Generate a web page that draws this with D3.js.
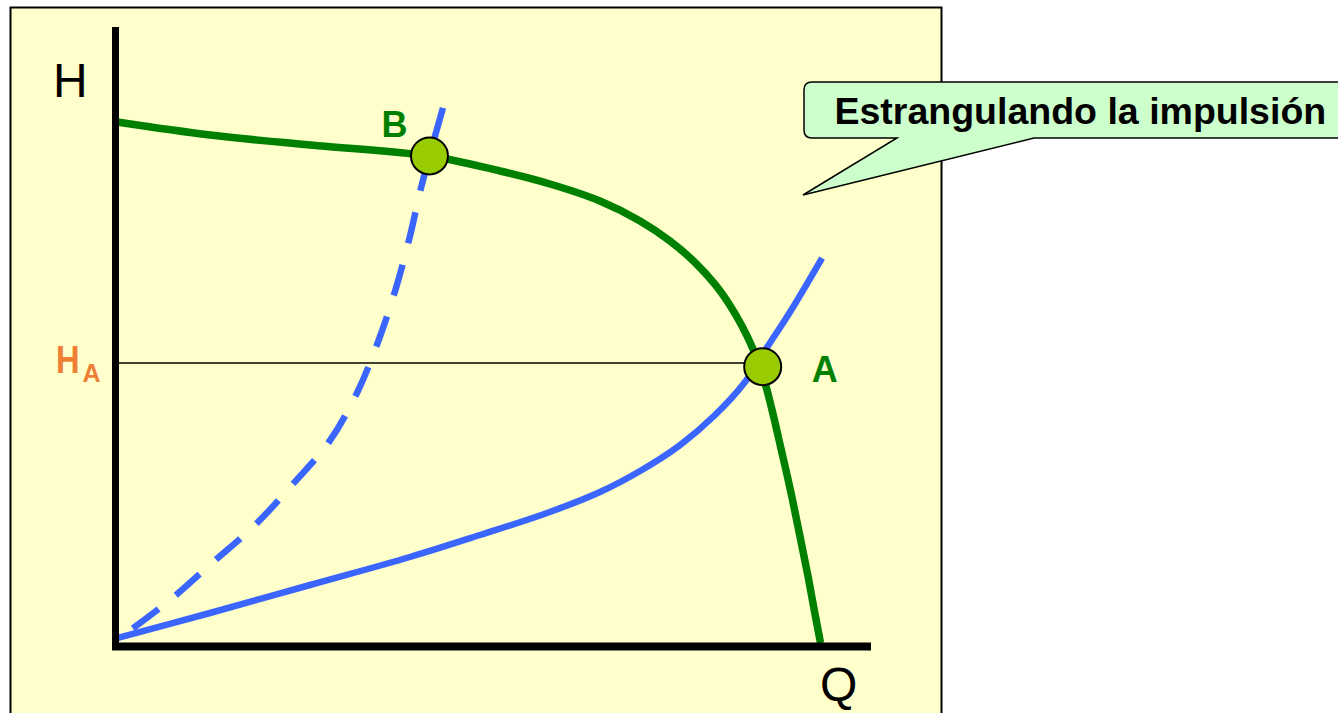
<!DOCTYPE html>
<html>
<head>
<meta charset="utf-8">
<script src="https://cdnjs.cloudflare.com/ajax/libs/d3/7.8.5/d3.min.js"></script>
<style>
    body { margin: 0; background: #ffffff; }
    svg { display: block; }
    text { font-family: 'Liberation Sans', Arial, sans-serif; }
</style>
</head>
<body>
<div id="vis"></div>
<script>
// Pump curve (H-Q)
var pumpQ = [0, 12.35, 25.63, 41.43, 50.86, 57.50, 64.14, 69.46, 73.44, 76.76, 79.42, 81.41, 83.00, 84.46, 85.79, 86.99, 88.18, 89.38, 90.70, 91.77, 92.56, 93.43];
var pumpH = [84.79, 82.69, 81.07, 79.29, 76.86, 74.76, 72.01, 68.77, 65.53, 62.06, 58.50, 55.10, 51.78, 48.06, 43.69, 38.19, 31.93, 25.52, 17.75, 11.28, 6.04, 0.49];

// System curve, valve open
var systemQ = [0, 12.35, 25.63, 38.91, 48.21, 57.11, 64.14, 69.46, 74.77, 79.42, 83.40, 86.19, 89.38, 93.63];
var systemH = [1.29, 5.34, 9.87, 14.40, 17.96, 21.52, 24.92, 28.32, 32.52, 37.38, 42.72, 48.06, 54.05, 62.78];

// System curve, throttled discharge
var throttledQ = [0, 7.04, 12.62, 18.33, 23.37, 28.15, 31.87, 34.66, 37.05, 38.91, 40.24, 41.50, 43.29];
var throttledH = [0.97, 7.44, 13.43, 19.58, 26.21, 33.01, 40.94, 49.19, 57.93, 66.34, 73.46, 79.29, 87.06];

// Operating points
var pointNames = ['A', 'B'];
var pointQ = [85.75, 41.5];
var pointH = [45.2, 79.3];

// Head at point A (reference line)
var headA = 45.8;

var calloutText = 'Estrangulando la impulsión';

// Size of the whole picture
var width = 1338;
var height = 713;

var svg = d3.select('#vis')
    .append('svg')
    .attr('width', width)
    .attr('height', height);

// Scales (no ticks in the original, just bare axes)
var xScale = d3.scaleLinear().domain([0, 100]).range([117, 870]);
var yScale = d3.scaleLinear().domain([0, 100]).range([646, 28]);

// Pale yellow panel
svg.append('rect')
    .attr('x', 10.5)
    .attr('y', 7.5)
    .attr('width', 931)
    .attr('height', 730)
    .attr('fill', '#ffffcc')
    .attr('stroke', '#000')
    .attr('stroke-width', 2);

// zip helper
var toPoints = function(qs, hs) {
    return qs.map(function(q, i) {
        return { q: q, h: hs[i] };
    });
};

var line = d3.line()
    .x(function(d) { return xScale(d.q); })
    .y(function(d) { return yScale(d.h); })
    .curve(d3.curveCatmullRom.alpha(0.5));

// Horizontal line at H_A
svg.append('line')
    .attr('x1', xScale(0))
    .attr('x2', xScale(pointQ[0]) - 18)
    .attr('y1', yScale(headA))
    .attr('y2', yScale(headA))
    .attr('stroke', '#000')
    .attr('stroke-width', 1.5);

// Throttled system curve (dashed)
var dashed = svg.append('path')
    .datum(toPoints(throttledQ, throttledH))
    .attr('d', line)
    .attr('fill', 'none')
    .attr('stroke', '#3a66ff')
    .attr('stroke-width', 6.5)
    .attr('stroke-dasharray', '32,22');

// line the dashes up so the curve ends on a full dash
var len = dashed.node().getTotalLength();
dashed.attr('stroke-dashoffset', ((32 - len) % 54 + 54) % 54);

// System curve
svg.append('path')
    .datum(toPoints(systemQ, systemH))
    .attr('d', line)
    .attr('fill', 'none')
    .attr('stroke', '#3a66ff')
    .attr('stroke-width', 6.5);

// Pump curve
svg.append('path')
    .datum(toPoints(pumpQ, pumpH))
    .attr('d', line)
    .attr('fill', 'none')
    .attr('stroke', '#008000')
    .attr('stroke-width', 7.5);

// Axes
svg.append('line')
    .attr('x1', xScale(0) - 1.5)
    .attr('x2', xScale(0) - 1.5)
    .attr('y1', yScale(100) - 1)
    .attr('y2', yScale(0) + 4)
    .attr('stroke', '#000')
    .attr('stroke-width', 7);

svg.append('line')
    .attr('x1', xScale(0) - 5)
    .attr('x2', xScale(100) + 1)
    .attr('y1', yScale(0) + 0.5)
    .attr('y2', yScale(0) + 0.5)
    .attr('stroke', '#000')
    .attr('stroke-width', 8);

// Operating points
var points = pointNames.map(function(n, i) {
    return { name: n, q: pointQ[i], h: pointH[i] };
});

svg.selectAll('circle.pt')
    .data(points)
    .enter().append('circle')
    .attr('class', 'pt')
    .attr('cx', function(d) { return xScale(d.q); })
    .attr('cy', function(d) { return yScale(d.h); })
    .attr('r', 18.5)
    .attr('fill', '#99cc00')
    .attr('stroke', '#000')
    .attr('stroke-width', 2);

// Point labels
var labelDx = { A: 49, B: -48 };
var labelDy = { A: 15, B: -19 };
svg.selectAll('text.pt')
    .data(points)
    .enter().append('text')
    .attr('class', 'pt')
    .attr('x', function(d) { return xScale(d.q) + labelDx[d.name]; })
    .attr('y', function(d) { return yScale(d.h) + labelDy[d.name]; })
    .attr('font-size', 36)
    .attr('font-weight', 'bold')
    .attr('fill', '#008000')
    .text(function(d) { return d.name; });

// Axis titles
svg.append('text')
    .attr('x', 53)
    .attr('y', 97)
    .attr('font-size', 48)
    .attr('fill', '#000')
    .text('H');

svg.append('text')
    .attr('x', 820)
    .attr('y', 701)
    .attr('font-size', 48)
    .attr('fill', '#000')
    .text('Q');

// H_A label
svg.append('text')
    .attr('transform', 'translate(56,' + (yScale(headA) + 10) + ') scale(0.84,1)')
    .attr('font-size', 39)
    .attr('font-weight', 'bold')
    .attr('fill', '#ee7f35')
    .text('H');

svg.append('text')
    .attr('x', 82.5)
    .attr('y', yScale(headA) + 19)
    .attr('font-size', 25)
    .attr('font-weight', 'bold')
    .attr('fill', '#ee7f35')
    .text('A');

// Callout
svg.append('path')
    .attr('d', 'M812,82 H1350 V138 H1034 L803,195 L897,138 H812 Q804,138 804,130 V90 Q804,82 812,82 Z')
    .attr('fill', '#ccffcc')
    .attr('stroke', '#000')
    .attr('stroke-width', 1.5)
    .attr('stroke-linejoin', 'miter');

svg.append('text')
    .attr('x', 834.5)
    .attr('y', 123.5)
    .attr('font-size', 37.5)
    .attr('font-weight', 'bold')
    .attr('fill', '#000')
    .text(calloutText);
</script>
</body>
</html>
